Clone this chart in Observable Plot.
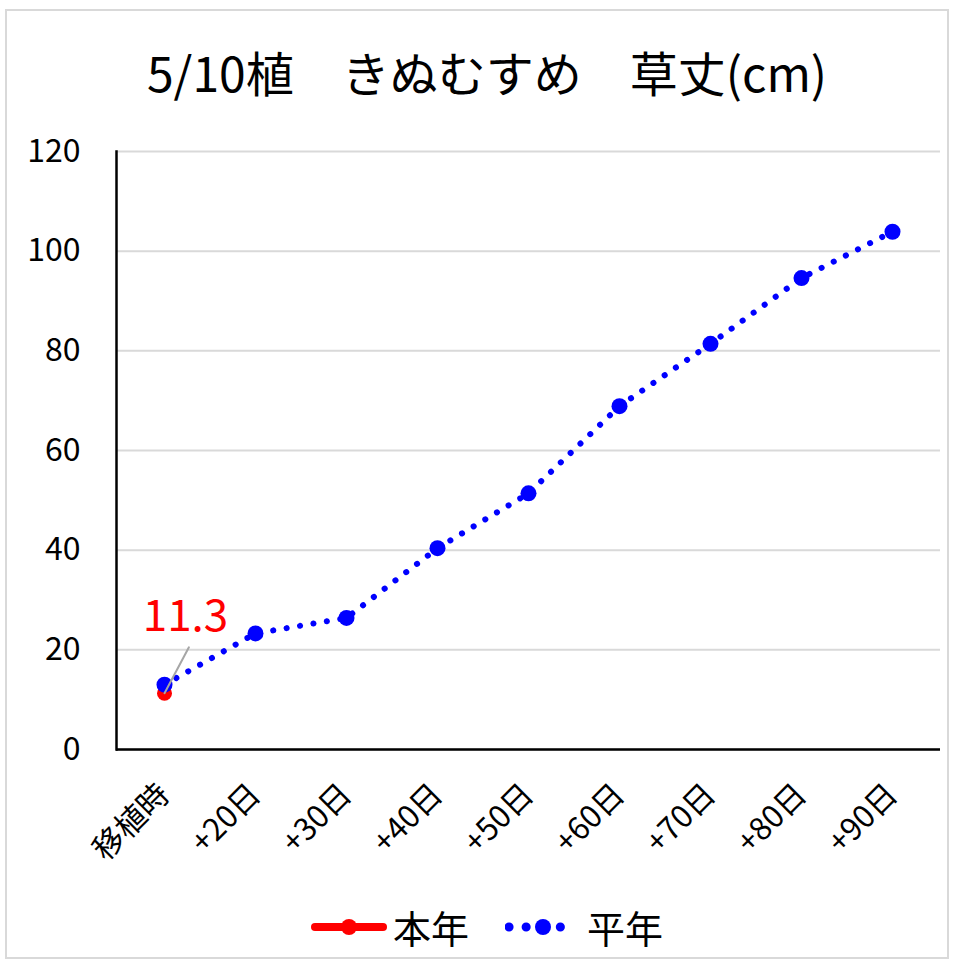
<!DOCTYPE html>
<html><head><meta charset="utf-8">
<script src="https://cdn.jsdelivr.net/npm/d3@7"></script>
<script src="https://cdn.jsdelivr.net/npm/@observablehq/plot@0.6"></script>
<style>
body{margin:0;background:#fff;}
#wrap{position:relative;width:954px;height:963px;font-family:"Noto Sans CJK JP",sans-serif;color:#000;overflow:hidden;}
#frame{position:absolute;left:5px;top:9px;width:944px;height:950px;border:2px solid #d9d9d9;box-sizing:border-box;}
#title{position:absolute;top:37px;left:20px;width:934px;text-align:center;font-size:48px;line-height:68px;white-space:pre;}
#chart{position:absolute;left:0;top:0;}
#legend{position:absolute;top:898px;left:0;width:974px;display:flex;justify-content:center;align-items:center;font-size:38px;line-height:58px;}
#legend .item{display:flex;align-items:center;margin:0 18px;}
#legend svg{margin-right:6px;}
</style></head>
<body>
<div id="wrap">
<div id="frame"></div>
<div id="chart"></div>
<div id="title"></div>
<div id="legend"></div>
</div>
<script>
const titleText = "5/10植　きぬむすめ　草丈(cm)";
const categories = ["移植時","+20日","+30日","+40日","+50日","+60日","+70日","+80日","+90日"];
const normalYear = [13.0, 23.3, 26.4, 40.4, 51.4, 68.9, 81.4, 94.6, 103.9];
const thisYear = [11.3];
const yTicks = [0, 20, 40, 60, 80, 100, 120];
const seriesNames = ["本年", "平年"];
const seriesColors = ["#ff0000", "#0000ff"];

const normalData = normalYear.map((v, i) => ({cat: categories[i], v}));
const thisData = thisYear.map((v, i) => ({cat: categories[i], v}));

document.getElementById("title").textContent = titleText;

const leader = {draw(ctx, l) { ctx.moveTo(0, 0); ctx.lineTo(0, -l); }};

const chart = Plot.plot({
  width: 954,
  height: 880,
  marginLeft: 116,
  marginRight: 14,
  marginTop: 151,
  marginBottom: 131,
  style: {fontFamily: "'Noto Sans CJK JP', sans-serif", background: "transparent", color: "#000"},
  x: {type: "point", domain: categories, padding: 0.5},
  y: {domain: [0, 120]},
  marks: [
    Plot.gridY(yTicks, {stroke: "#d9d9d9", strokeOpacity: 1, strokeWidth: 2}),
    Plot.axisY(yTicks, {tickSize: 0, tickPadding: 36, fontSize: 32, label: null}),
    Plot.axisX({tickSize: 0, tickPadding: 40, tickRotate: -45, fontSize: 31, label: null}),
    Plot.ruleY([0], {stroke: "#000", strokeWidth: 2.5}),
    Plot.frame({anchor: "left", stroke: "#000", strokeWidth: 2.5}),
    Plot.line(normalData, {x: "cat", y: "v", stroke: seriesColors[1], strokeWidth: 6, strokeDasharray: "0.1 13.5", strokeLinecap: "round"}),
    Plot.line(thisData, {x: "cat", y: "v", stroke: seriesColors[0], strokeWidth: 5}),
    Plot.dot(thisData, {x: "cat", y: "v", r: 7.5, fill: seriesColors[0]}),
    Plot.dot(normalData, {x: "cat", y: "v", r: 8, fill: seriesColors[1]}),
    Plot.vector(thisData, {x: "cat", y: "v", length: 52, rotate: 28, anchor: "start", shape: leader, stroke: "#a6a6a6", strokeWidth: 2}),
    Plot.text(thisData, {x: "cat", y: "v", text: d => d.v.toFixed(1), dx: 21, dy: -76, fill: seriesColors[0], fontSize: 44})
  ]
});
document.getElementById("chart").appendChild(chart);

const legend = document.getElementById("legend");
seriesNames.forEach((name, i) => {
  const item = document.createElement("div");
  item.className = "item";
  const w = 76, h = 24, cy = 12;
  let svg;
  if (i === 0) {
    svg = `<svg width="${w}" height="${h}"><line x1="4" x2="${w-4}" y1="${cy}" y2="${cy}" stroke="${seriesColors[0]}" stroke-width="8" stroke-linecap="round"/><circle cx="${w/2}" cy="${cy}" r="8" fill="${seriesColors[0]}"/></svg>`;
  } else {
    svg = `<svg width="${w}" height="${h}"><line x1="4" x2="${w-4}" y1="${cy}" y2="${cy}" stroke="${seriesColors[1]}" stroke-width="9" stroke-dasharray="0.1 17" stroke-linecap="round"/><circle cx="${w/2}" cy="${cy}" r="8" fill="${seriesColors[1]}"/></svg>`;
  }
  item.innerHTML = svg + `<span>${name}</span>`;
  legend.appendChild(item);
});
</script>
</body></html>
